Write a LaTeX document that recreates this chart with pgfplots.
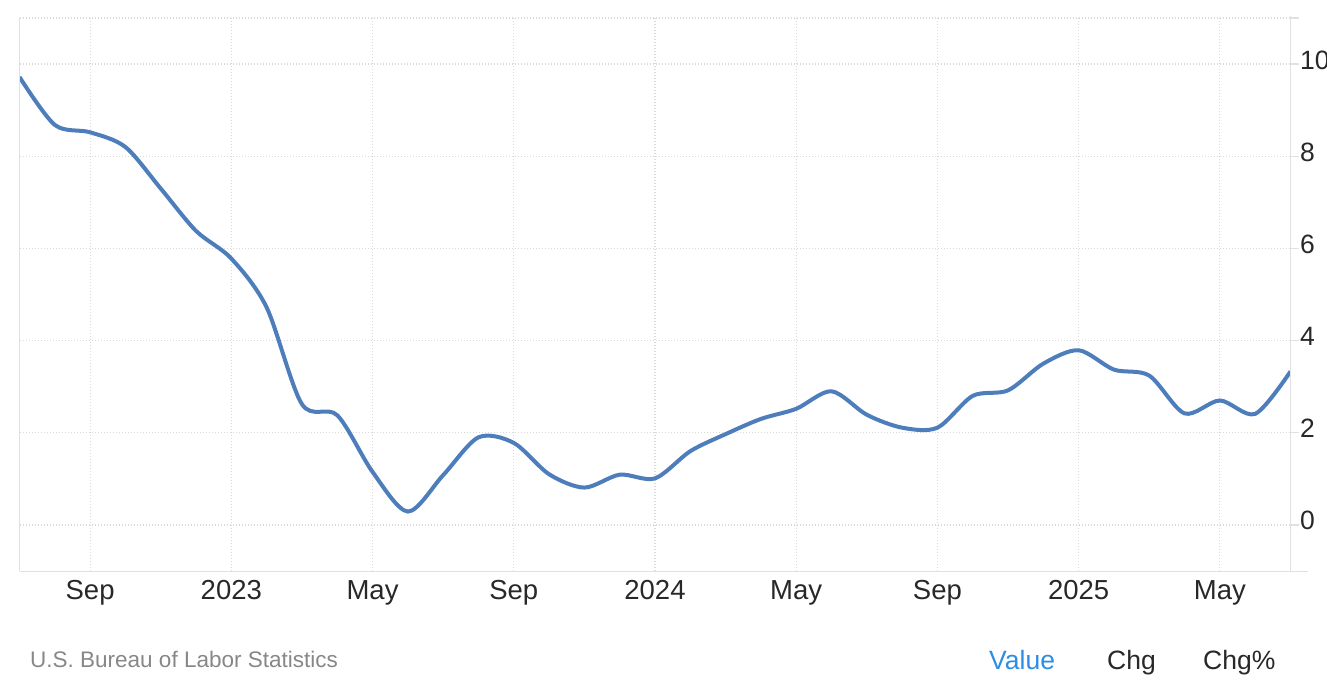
\documentclass[border=0pt]{standalone}
\usepackage{fontspec}
\setmainfont{Liberation Sans}
\usepackage{pgfplots}
\pgfplotsset{compat=1.18}
\definecolor{linec}{RGB}{77,126,187}
\definecolor{gridc}{RGB}{218,218,218}
\definecolor{axisc}{RGB}{225,225,225}
\definecolor{textc}{RGB}{40,40,40}
\definecolor{srcc}{RGB}{135,135,135}
\definecolor{valc}{RGB}{45,140,228}
\begin{document}
\begin{tikzpicture}
\path[use as bounding box] (0,0) rectangle (1327bp,687bp);
\begin{axis}[
  at={(19.5bp,116bp)}, anchor=south west,
  scale only axis, width=1271bp, height=553bp,
  xmin=0, xmax=36, ymin=-1, ymax=11,
  xtick={2,6,10,14,18,22,26,30,34},
  xticklabels={Sep,2023,May,Sep,2024,May,Sep,2025,May},
  ytick={0,2,4,6,8,10},
  yticklabels={0,2,4,6,8,10},
  extra y ticks={11}, extra y tick labels={},
  extra y tick style={grid=major},
  yticklabel pos=right, ytick pos=right,
  axis line style={draw=none},
  grid=major,
  major grid style={color=gridc, line width=1.2bp, dash pattern=on 1.4bp off 1.6bp},
  tick align=outside,
  major tick length=9bp,
  xtick style={draw=none},
  ytick style={color=axisc, line width=1.2bp},
  /pgf/number format/assume math mode=true,
  ticklabel style={font=\fontsize{26.5bp}{30bp}\selectfont, text=textc, inner sep=0pt},
  xticklabel style={font=\fontsize{27.5bp}{31bp}\selectfont, anchor=base, yshift=-20bp},
  yticklabel style={anchor=base west, xshift=0.5bp, yshift=-5bp},
]
\addplot[linec, line width=4bp, smooth, tension=0.5] coordinates {
(0,9.72)(1,8.68)(2,8.52)(3,8.20)(4,7.30)(5,6.38)(6,5.78)(7,4.72)(8,2.62)(9,2.38)
(10,1.15)(11,0.29)(12,1.08)(13,1.90)(14,1.78)(15,1.10)(16,0.81)(17,1.09)(18,1.01)
(19,1.60)(20,1.97)(21,2.30)(22,2.52)(23,2.90)(24,2.39)(25,2.11)(26,2.11)(27,2.80)
(28,2.92)(29,3.50)(30,3.79)(31,3.37)(32,3.24)(33,2.42)(34,2.70)(35,2.41)(36,3.33)
};
\end{axis}
\draw[axisc, line width=1.3bp] (19.5bp,116bp) -- (19.5bp,669bp);
\draw[axisc, line width=1.3bp] (1290.5bp,116bp) -- (1290.5bp,671bp);
\draw[axisc, line width=1.3bp] (19.5bp,115.5bp) -- (1308bp,115.5bp);
\node[anchor=base west, inner sep=0pt, text=srcc, font=\fontsize{22.5bp}{26bp}\selectfont] at (30bp,20bp) {U.S. Bureau of Labor Statistics};
\node[anchor=base west, inner sep=0pt, text=valc, font=\fontsize{26.5bp}{30bp}\selectfont] at (989bp,18bp) {Value};
\node[anchor=base west, inner sep=0pt, text=textc, font=\fontsize{26.5bp}{30bp}\selectfont] at (1107bp,18bp) {Chg};
\node[anchor=base west, inner sep=0pt, text=textc, font=\fontsize{26.5bp}{30bp}\selectfont] at (1203bp,18bp) {Chg\%};
\end{tikzpicture}
\end{document}
